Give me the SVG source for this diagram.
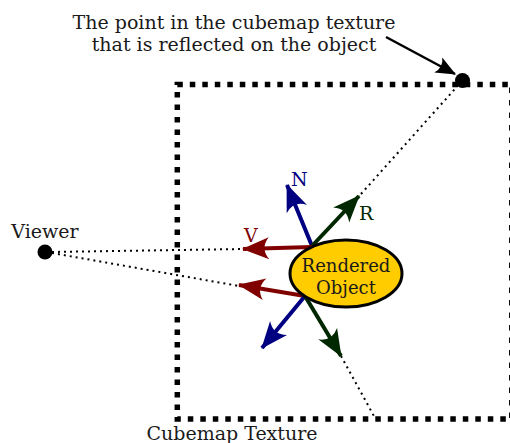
<svg xmlns="http://www.w3.org/2000/svg" width="510" height="443" viewBox="0 0 510 443">
<style>
text{font-family:"DejaVu Serif","Liberation Serif",serif;font-size:19px;fill:#1a1a1a}
.dot{fill:none;stroke:#000;stroke-width:2;stroke-dasharray:2,4}
.vec{fill:none;stroke-width:4}
</style>
<defs>
<marker id="hb" viewBox="-28 -12 30 24" refX="0" refY="0" markerWidth="30" markerHeight="24" markerUnits="userSpaceOnUse" orient="auto"><path d="M1,0 L-26,-11 Q-17,0 -26,11 Z" fill="#000080"/></marker>
<marker id="hr" viewBox="-28 -12 30 24" refX="0" refY="0" markerWidth="30" markerHeight="24" markerUnits="userSpaceOnUse" orient="auto"><path d="M1,0 L-26,-11 Q-17,0 -26,11 Z" fill="#800000"/></marker>
<marker id="hg" viewBox="-28 -12 30 24" refX="0" refY="0" markerWidth="30" markerHeight="24" markerUnits="userSpaceOnUse" orient="auto"><path d="M1,0 L-26,-11 Q-17,0 -26,11 Z" fill="#002800"/></marker>
<marker id="hk" viewBox="-21 -10 23 20" refX="0" refY="0" markerWidth="23" markerHeight="20" markerUnits="userSpaceOnUse" orient="auto"><path d="M1,0 L-19,-8.5 Q-13,0 -19,8.5 Z" fill="#000"/></marker>
</defs>
<g id="cubemap">
<rect x="177.3" y="84.5" width="334.5" height="334.5" fill="none" stroke="#000" stroke-width="5.5" stroke-dasharray="5.5,7"/>
<text x="232" y="440" text-anchor="middle">Cubemap Texture</text>
</g>
<g id="connectors">
<line class="dot" x1="52" y1="252" x2="243" y2="249"/>
<line class="dot" x1="52" y1="253" x2="239" y2="286"/>
<line class="dot" x1="361" y1="194" x2="462" y2="81"/>
<line class="dot" x1="341" y1="356" x2="375" y2="418"/>
<line fill="none" stroke="#000" stroke-width="2.5" x1="386" y1="37" x2="455" y2="74" marker-end="url(#hk)"/>
<line class="vec" stroke="#000080" x1="312" y1="246" x2="287" y2="185" marker-end="url(#hb)"/>
<line class="vec" stroke="#002800" x1="312" y1="246" x2="359" y2="196" marker-end="url(#hg)"/>
<line class="vec" stroke="#800000" x1="312" y1="247" x2="243" y2="249" marker-end="url(#hr)"/>
<line class="vec" stroke="#800000" x1="305" y1="296" x2="239" y2="285" marker-end="url(#hr)"/>
<line class="vec" stroke="#000080" x1="305" y1="296" x2="262" y2="348" marker-end="url(#hb)"/>
<line class="vec" stroke="#002800" x1="305" y1="296" x2="341" y2="356" marker-end="url(#hg)"/>
</g>
<g id="labels">
<text x="291" y="186" style="fill:#000080">N</text>
<text x="359" y="220" style="fill:#002800">R</text>
<text x="244" y="242" style="fill:#800000">V</text>
</g>
<g id="object">
<ellipse cx="346" cy="273.5" rx="56" ry="33.5" fill="#ffcc00" stroke="#000" stroke-width="3"/>
<text x="346" y="272" text-anchor="middle" style="font-size:18px">Rendered</text>
<text x="346" y="294" text-anchor="middle" style="font-size:18px">Object</text>
</g>
<g id="viewer">
<circle cx="45" cy="252" r="7.5" fill="#000"/>
<text x="45" y="238" text-anchor="middle">Viewer</text>
</g>
<g id="point">
<circle cx="462.5" cy="80.5" r="7.5" fill="#000"/>
<text x="234" y="29" text-anchor="middle">The point in the cubemap texture</text>
<text x="234" y="51" text-anchor="middle">that is reflected on the object</text>
</g>
</svg>
